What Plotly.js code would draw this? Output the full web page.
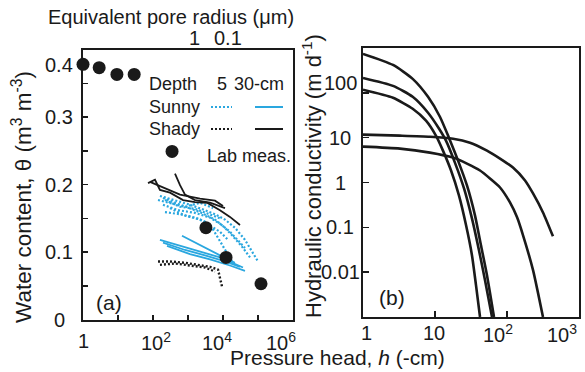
<!DOCTYPE html>
<html><head><meta charset="utf-8">
<script src="https://cdn.plot.ly/plotly-3.0.1.min.js"></script>
<style>html,body{margin:0;padding:0;background:#fff}</style>
</head><body><div id="chart" style="width:585px;height:372px"></div>
<script>
// ---------- Panel (a) data: water content vs pressure head ----------
var labH = [1, 2.9, 9.3, 29, 350, 3250, 12200, 122000];
var labTheta = [0.378, 0.373, 0.363, 0.363, 0.249, 0.136, 0.092, 0.053];

// Sunny, 5 cm (dotted blue) – several sensor strands separated by null
var sunny5H = [158, 425, 1140, 3060, 5910, 11400, 22000, 42500, 67400, 100000, null,
               193, 518, 1585, 4250, 9360, 18100, 34900, 59100, null,
               220, 591, 1585, 3060, 4850, 7200, 11400, 18100, null,
               139, 306, 821, 2200, 5180, null,
               193, 591, 2200, 5910, 15800, 42500, null,
               220, 591, 1585, 4250, 8200, null,
               306, 821, 2200, 4250, 8200, 13900];
var sunny5Theta = [0.183, 0.177, 0.170, 0.162, 0.156, 0.148, 0.136, 0.118, 0.100, 0.086, null,
                   0.170, 0.162, 0.158, 0.151, 0.140, 0.125, 0.108, 0.092, null,
                   0.159, 0.156, 0.151, 0.145, 0.136, 0.121, 0.103, 0.086, null,
                   0.177, 0.173, 0.167, 0.173, 0.165, null,
                   0.180, 0.170, 0.159, 0.148, 0.130, 0.106, null,
                   0.177, 0.167, 0.164, 0.156, 0.150, null,
                   0.165, 0.154, 0.148, 0.139, 0.130, 0.118];
// Sunny, 30 cm (solid blue)
var sunny30H = [158, 591, 2200, 8200, 37300, null,
                193, 821, 3060, 11400, 30600, null,
                674, 1585, 3730, 8200, 22000, null,
                251, 1140, 4250, 15800, 42500];
var sunny30Theta = [0.118, 0.109, 0.100, 0.092, 0.077, null,
                    0.114, 0.103, 0.095, 0.086, 0.078, null,
                    0.124, 0.114, 0.103, 0.095, 0.084, null,
                    0.109, 0.097, 0.089, 0.080, 0.072];
// Shady, 5 cm (dotted black)
var shady5H = [139, 306, 821, 2200, 4250, 7200, 8200, 9360, null,
               158, 425, 1140, 3060, 5910];
var shady5Theta = [0.086, 0.086, 0.084, 0.081, 0.078, 0.074, 0.062, 0.049, null,
                   0.081, 0.083, 0.080, 0.077, 0.071];
// Shady, 30 cm (solid black)
var shady30H = [72, 114, 158, 306, 720, 1585, 3490, 8200, 15800, 30600, null,
                425, 591, 821, 1585, 4250, 11400, null,
                82, 220, 591, 2200, 5910, 10000];
var shady30Theta = [0.202, 0.207, 0.192, 0.188, 0.177, 0.174, 0.173, 0.162, 0.152, 0.140, null,
                    0.216, 0.199, 0.185, 0.177, 0.173, 0.165, null,
                    0.204, 0.195, 0.185, 0.179, 0.176, 0.168];

// ---------- Panel (b) data: hydraulic conductivity curves ----------
var hA = [1, 2.61, 4.9, 8.0, 11.7, 15.6, 20.9, 27.8, 35.9, 43.5, 52.7, 66];
var kA = [740, 419, 205, 81.5, 29.3, 10, 3.08, 0.858, 0.185, 0.0398, 0.00858, 0.001];
var hB = [1, 2.61, 4.9, 8.0, 11.4, 14.2, 18.9, 25.3, 32.6, 40.8, 49.5, 61.9];
var kB = [215, 143, 81.5, 36, 15.8, 8.58, 2.78, 0.736, 0.158, 0.0308, 0.00664, 0.001];
var hC = [1, 2.61, 4.9, 7.5, 10.3, 12.9, 16.7, 21.5, 27, 32.6, 37.1, 42.2];
var kC = [117, 77.4, 44.1, 23.9, 11.1, 5.14, 1.85, 0.514, 0.111, 0.0239, 0.00514, 0.001];
var hD = [1, 3.26, 8.5, 17.8, 30.6, 52.7, 80, 121, 178, 230, 316, 435];
var kD = [11.7, 11.1, 10.5, 9.5, 7.74, 5.14, 3.41, 2.15, 1.11, 0.57, 0.215, 0.063];
var hE = [1, 3.26, 8.5, 17.8, 27.8, 42.2, 58, 80, 110, 138, 167, 230, 270, 316];
var kE = [6.31, 5.70, 4.64, 3.59, 2.64, 1.85, 1.23, 0.774, 0.359, 0.167, 0.0664, 0.0111, 0.00341, 0.001];

// ---------- Tick values / labels ----------
var aXTickVals = [1, 10, 100, 1000, 10000, 100000, 1000000];
var aXLabelVals = [1, 100, 10000, 1000000];
var aXLabelText = ['1', '10<sup>2</sup>', '10<sup>4</sup>', '10<sup>6</sup>'];
var aYTickVals = [0, 0.05, 0.1, 0.15, 0.2, 0.25, 0.3, 0.35, 0.4];
var aYLabelVals = [0, 0.1, 0.2, 0.3, 0.4];
var aYLabelText = ['0', '0.1', '0.2', '0.3', '0.4'];
var poreTickH = [1500, 13500];
var poreTickText = ['1', '0.1'];
var bXTickVals = [1, 10, 100, 1000];
var bXLabelText = ['1', '10', '10<sup>2</sup>', '10<sup>3</sup>'];
var bYTickVals = [0.001, 0.01, 0.1, 1, 10, 100, 1000];
var bYLabelVals = [0.01, 0.1, 1, 10, 100];
var bYLabelText = ['0.01', '0.1', '1', '10', '100'];

// ---------- styling / layout helpers ----------
var W = 585, H = 372;
function px(x) { return x / W; }
function py(y) { return 1 - y / H; }
var BLUE = '#2aa7df', BLACK = '#1a1a1a';
var FONT = 'Liberation Sans, Arial, sans-serif';
var DOTS = '2px,2px';

var traces = [
  {x: sunny5H, y: sunny5Theta, xaxis: 'x', yaxis: 'y', mode: 'lines', connectgaps: false,
   line: {color: BLUE, width: 2.2, dash: DOTS}, hoverinfo: 'skip'},
  {x: sunny30H, y: sunny30Theta, xaxis: 'x', yaxis: 'y', mode: 'lines', connectgaps: false,
   line: {color: BLUE, width: 1.8}, hoverinfo: 'skip'},
  {x: shady5H, y: shady5Theta, xaxis: 'x', yaxis: 'y', mode: 'lines', connectgaps: false,
   line: {color: BLACK, width: 2.4, dash: DOTS}, hoverinfo: 'skip'},
  {x: shady30H, y: shady30Theta, xaxis: 'x', yaxis: 'y', mode: 'lines', connectgaps: false,
   line: {color: BLACK, width: 1.8}, hoverinfo: 'skip'},
  {x: labH, y: labTheta, xaxis: 'x', yaxis: 'y', mode: 'markers', cliponaxis: false,
   marker: {color: BLACK, size: 13}, hoverinfo: 'skip'}
];
[[hA, kA], [hB, kB], [hC, kC], [hD, kD], [hE, kE]].forEach(function (c) {
  traces.push({x: c[0], y: c[1], xaxis: 'x2', yaxis: 'y2', mode: 'lines',
    line: {color: BLACK, width: 2.6, shape: 'spline', smoothing: 0.6}, hoverinfo: 'skip'});
});

var axisCommon = {showgrid: false, zeroline: false, showline: true, linecolor: BLACK, linewidth: 2,
  ticks: 'inside', tickcolor: BLACK, tickwidth: 1.5, showticklabels: false, mirror: true, fixedrange: true};

var layout = {
  width: W, height: H, margin: {l: 0, r: 0, t: 0, b: 0},
  paper_bgcolor: '#fff', plot_bgcolor: '#fff', showlegend: false,
  font: {family: FONT, size: 20, color: BLACK},
  xaxis: Object.assign({}, axisCommon, {domain: [px(83), px(293)], type: 'log', range: [0, 6],
    anchor: 'y', tickmode: 'array', tickvals: aXTickVals, ticklen: 5}),
  yaxis: Object.assign({}, axisCommon, {domain: [py(319.5), py(49.5)], range: [0, 0.4],
    anchor: 'x', tickmode: 'array', tickvals: aYTickVals, ticklen: 5}),
  xaxis3: Object.assign({}, axisCommon, {overlaying: 'x', side: 'top', type: 'log', range: [0, 6],
    anchor: 'y', tickmode: 'array', tickvals: poreTickH, ticklen: 5, mirror: false}),
  xaxis2: Object.assign({}, axisCommon, {domain: [px(363), px(579)], type: 'log', range: [0, 3],
    anchor: 'y2', tickmode: 'array', tickvals: bXTickVals, ticklen: 6}),
  yaxis2: Object.assign({}, axisCommon, {domain: [py(317), py(48)], type: 'log', range: [-3, 3],
    anchor: 'x2', tickmode: 'array', tickvals: bYTickVals, ticklen: 6}),
  annotations: [], shapes: []
};

var ann = layout.annotations;
function txt(o) { o.showarrow = false; o.font = o.font || {family: FONT, size: 20, color: BLACK}; ann.push(o); }

// panel (a) x labels
var aXShift = [0, 3, -6, -12];
aXLabelVals.forEach(function (v, i) {
  txt({xref: 'x', yref: 'paper', x: Math.log10(v), y: py(341), xanchor: 'center', yanchor: 'middle',
       xshift: aXShift[i], text: aXLabelText[i]});
});
// panel (a) y labels
aYLabelVals.forEach(function (v, i) {
  txt({xref: 'paper', yref: 'y', x: px(59), y: v, xanchor: 'center', yanchor: 'middle',
       yshift: (v === 0.4 ? -15 : 0), text: aYLabelText[i]});
});
// pore radius labels
poreTickH.forEach(function (v, i) {
  txt({xref: 'x', yref: 'paper', x: Math.log10(v), y: py(38), xanchor: 'center', yanchor: 'middle',
       text: poreTickText[i]});
});
// panel (b) x labels
var bXShift = [3, -1, -9, -17];
bXTickVals.forEach(function (v, i) {
  txt({xref: 'x2', yref: 'paper', x: Math.log10(v), y: py(333), xanchor: 'center', yanchor: 'middle',
       xshift: bXShift[i], text: bXLabelText[i]});
});
// panel (b) y labels
bYLabelVals.forEach(function (v, i) {
  txt({xref: 'paper', yref: 'y2', x: px(340), y: Math.log10(v), xanchor: 'center', yanchor: 'middle',
       yshift: (v === 100 ? 10 : 0), text: bYLabelText[i]});
});

// titles
txt({xref: 'paper', yref: 'paper', x: px(171), y: py(17), xanchor: 'center', yanchor: 'middle',
     text: 'Equivalent pore radius (μm)', font: {family: FONT, size: 20, color: BLACK}});
txt({xref: 'paper', yref: 'paper', x: px(337), y: py(357), xanchor: 'center', yanchor: 'middle',
     text: 'Pressure head, <i>h</i> (-cm)', font: {family: FONT, size: 21, color: BLACK}});
txt({xref: 'paper', yref: 'paper', x: px(22), y: py(197), xanchor: 'center', yanchor: 'middle',
     textangle: -90, text: 'Water content, θ (m<sup>3</sup> m<sup>-3</sup>)', font: {family: FONT, size: 22.5, color: BLACK}});
txt({xref: 'paper', yref: 'paper', x: px(312), y: py(176), xanchor: 'center', yanchor: 'middle',
     textangle: -90, text: 'Hydraulic conductivity (m d<sup>-1</sup>)', font: {family: FONT, size: 22, color: BLACK}});
txt({xref: 'paper', yref: 'paper', x: px(109), y: py(302), xanchor: 'center', yanchor: 'middle',
     text: '(a)', font: {family: FONT, size: 21, color: BLACK}});
txt({xref: 'paper', yref: 'paper', x: px(392), y: py(297), xanchor: 'center', yanchor: 'middle',
     text: '(b)', font: {family: FONT, size: 21, color: BLACK}});

// legend for panel (a)
var LF = {family: FONT, size: 18, color: BLACK};
txt({xref: 'paper', yref: 'paper', x: px(147), y: py(84), xanchor: 'left', yanchor: 'middle', text: 'Depth', font: LF});
txt({xref: 'paper', yref: 'paper', x: px(222), y: py(84), xanchor: 'center', yanchor: 'middle', text: '5', font: LF});
txt({xref: 'paper', yref: 'paper', x: px(232), y: py(84), xanchor: 'left', yanchor: 'middle', text: '30-cm', font: LF});
txt({xref: 'paper', yref: 'paper', x: px(147), y: py(107), xanchor: 'left', yanchor: 'middle', text: 'Sunny', font: LF});
txt({xref: 'paper', yref: 'paper', x: px(147), y: py(129), xanchor: 'left', yanchor: 'middle', text: 'Shady', font: LF});
txt({xref: 'paper', yref: 'paper', x: px(205), y: py(156), xanchor: 'left', yanchor: 'middle', text: 'Lab meas.', font: LF});
function seg(x0, x1, y, color, dash) {
  layout.shapes.push({type: 'line', xref: 'paper', yref: 'paper', x0: px(x0), x1: px(x1), y0: py(y), y1: py(y),
    line: {color: color, width: 2, dash: dash}});
}
seg(211, 232, 107, BLUE, DOTS);
seg(255, 283, 107, BLUE, 'solid');
seg(211, 232, 129, BLACK, DOTS);
seg(255, 283, 129, BLACK, 'solid');

Plotly.newPlot('chart', traces, layout, {staticPlot: true, displayModeBar: false});
</script></body></html>
